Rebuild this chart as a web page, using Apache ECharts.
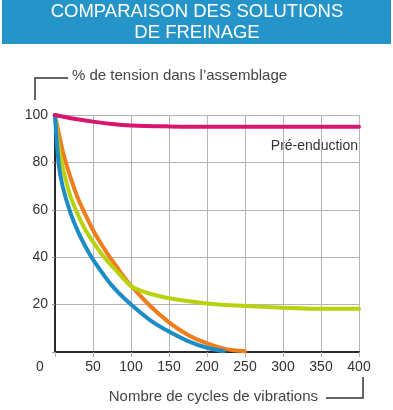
<!DOCTYPE html>
<html>
<head>
<meta charset="utf-8">
<script src="https://cdn.jsdelivr.net/npm/echarts@6/dist/echarts.min.js"></script>
<style>
html,body{margin:0;padding:0;background:#fff;}
#c{width:393px;height:410px;}
</style>
</head>
<body>
<div id="c"></div>
<script>
// Data (x = vibration cycles, y = % tension)
const titleLines = ['COMPARAISON DES SOLUTIONS', 'DE FREINAGE'];
const yAxisName = '% de tension dans l\u2019assemblage';
const xAxisName = 'Nombre de cycles de vibrations';
const xTicks = [0, 50, 100, 150, 200, 250, 300, 350, 400];
const yTicks = [0, 20, 40, 60, 80, 100];
const preEnductionLabel = 'Pré-enduction';

const preEnduction = [[0,100],[25,98.4],[50,97.2],[75,96.2],[100,95.6],[150,95.2],[200,95],[300,95],[400,95]];
const blueCurve = [[0,100],[5,79],[10,70],[20,59],[30,51],[40,44.5],[50,39],[75,28],[100,20],[125,13.5],[150,8.6],[175,4.6],[200,1.8],[222,0.3]];
const greenCurve = [[0,100],[5,86],[10,78],[20,66],[30,58],[40,51.5],[50,46.5],[60,42],[70,38],[80,34.5],[90,31],[100,27.8],[110,26.2],[125,24.6],[150,22.7],[200,20.5],[250,19.4],[300,18.7],[350,18.2],[400,18.2]];
const orangeCurve = [[0,100],[10,85],[20,74],[30,65],[40,58],[50,51.5],[60,46],[70,41],[80,36.5],[90,32],[100,28],[125,19.5],[150,12.5],[175,7.2],[200,3.6],[225,1.2],[250,0.3]];

const chart = echarts.init(document.getElementById('c'));
const font = '"Liberation Sans", Arial, Helvetica, sans-serif';
const lineSeries = (name, data, color) => ({
  name, type: 'line', data, smooth: 0.3, showSymbol: false,
  lineStyle: { color, width: 4, cap: 'round', join: 'round' }, silent: true, animation: false
});

chart.setOption({
  animation: false,
  grid: { left: 55, right: 34, top: 115, bottom: 58 },
  xAxis: {
    type: 'value', min: 0, max: 400, interval: 50,
    axisLine: { show: true, onZero: false, lineStyle: { color: '#2a2a2a', width: 2 } },
    axisTick: { show: true, length: 5, lineStyle: { color: '#b0b0b0' } },
    splitLine: { show: true, lineStyle: { color: '#b4b4b4', width: 1 } },
    axisLabel: {
      color: '#333', fontSize: 14, fontFamily: font, margin: 8,
      formatter: v => v === 0 ? '{z|0}' : String(v),
      rich: { z: { padding: [0, 30, 0, 0], color: '#333', fontSize: 14, fontFamily: font } }
    }
  },
  yAxis: {
    type: 'value', min: 0, max: 100, interval: 20,
    axisLine: { show: true, lineStyle: { color: '#2a2a2a', width: 2 } },
    axisTick: { show: true, length: 3, lineStyle: { color: '#999' } },
    splitLine: { show: true, lineStyle: { color: '#b4b4b4', width: 1 } },
    axisLabel: { color: '#333', fontSize: 14, fontFamily: font, margin: 7,
      formatter: v => v === 0 ? '' : String(v) }
  },
  graphic: [
    { type: 'rect', left: 2, top: 0, shape: { width: 389, height: 44 }, style: { fill: '#2494c9' } },
    { type: 'text', x: 197, y: 1, style: { text: titleLines.join('\n'), fill: '#fff', font: '18.5px ' + font, align: 'center', verticalAlign: 'top', lineHeight: 21.5 } },
    { type: 'polyline', shape: { points: [[35,100],[35,78],[68,78]] }, style: { stroke: '#333', lineWidth: 1.5, fill: null } },
    { type: 'text', left: 72, top: 68, style: { text: yAxisName, fill: '#444', font: '15px ' + font } },
    { type: 'polyline', shape: { points: [[326,398],[363,398],[363,377]] }, style: { stroke: '#333', lineWidth: 1.5, fill: null } },
    { type: 'text', right: 75, top: 389, style: { text: xAxisName, fill: '#444', font: '15px ' + font } },
    { type: 'text', right: 35, top: 139, style: { text: preEnductionLabel, fill: '#333', font: '14px ' + font } }
  ],
  series: [
    lineSeries('orange', orangeCurve, '#ef7d1c'),
    lineSeries('green', greenCurve, '#b8d20f'),
    lineSeries('blue', blueCurve, '#1b8cc6'),
    lineSeries('pink', preEnduction, '#d8156f')
  ]
});
</script>
</body>
</html>
